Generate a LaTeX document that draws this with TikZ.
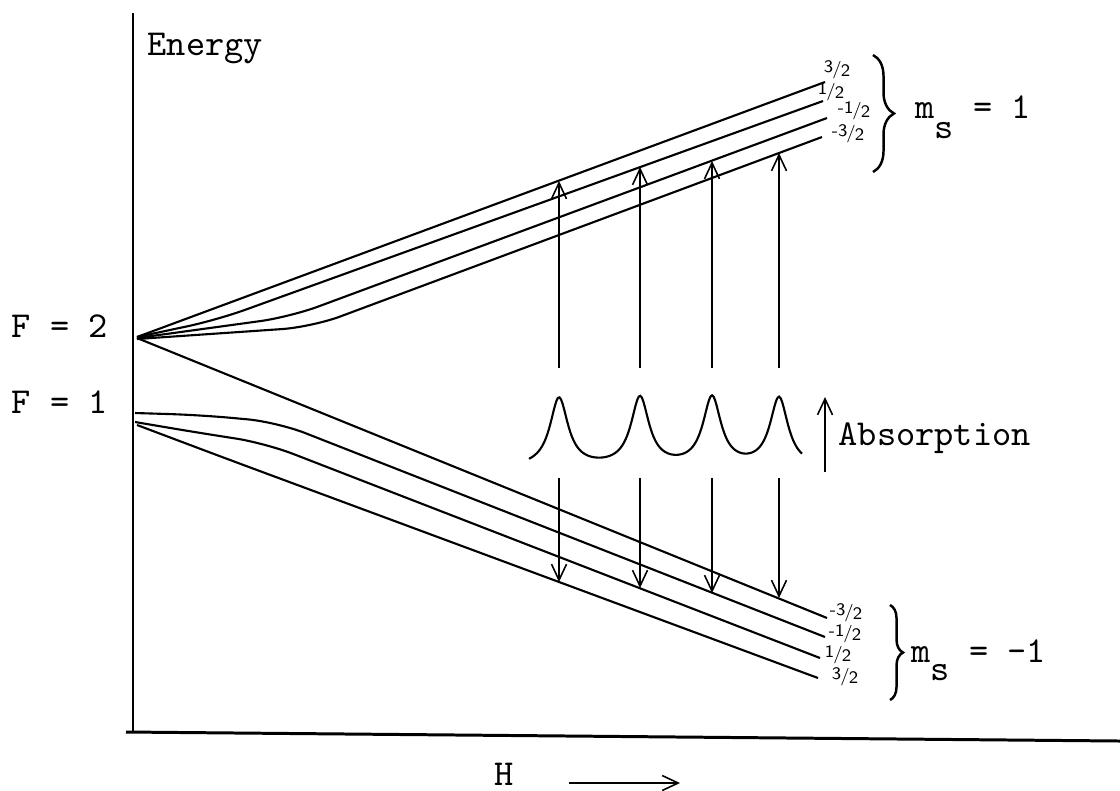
\documentclass[tikz,border=0pt]{standalone}
\usepackage{fontspec}
\usetikzlibrary{arrows.meta,decorations.pathreplacing}
\tikzset{
  sublevel/.style={line width=0.6pt, rounded corners=3mm},
  transition/.style={line width=0.45pt, -{Straight Barb[length=1.6mm,width=1.5mm]}},
  typed/.style={font=\fontsize{10.4}{12}\selectfont\ttfamily, inner sep=0pt},
  hand/.style={font=\fontsize{5}{5.5}\selectfont\sffamily, inner sep=0pt},
  bracket/.style={line width=0.7pt, decorate, decoration={brace,amplitude=#1}}
}
\newcommand{\hfr}[2]{\raisebox{0.25ex}{#1}\kern-0.05em/\kern-0.05em\raisebox{-0.25ex}{#2}}
\begin{document}
\begin{tikzpicture}[x=0.1mm,y=-0.1mm]
    \useasboundingbox (0,0) rectangle (1120,790);
    \draw[line width=0.85pt] (133,13) -- (133,731);
    \draw[line width=0.85pt] (126,732) -- (1120,741);
    \node[typed,anchor=base west] (energy) at (147,55) {Energy};
    \node[typed,anchor=base west] (F2) at (11,337) {F = 2};
    \node[typed,anchor=base west] (F1) at (11,413) {F = 1};

    % F = 2, upper branch
    \draw[sublevel] (137,337) -- (825,82);
    \draw[sublevel] (137,337) -- (217,320) -- (823,101);
    \draw[sublevel] (137,338) -- (290,317) -- (827,118);
    \draw[sublevel] (137,339) -- (312,327) -- (822,137);
    % lower branch
    \draw[sublevel] (137,338) -- (827,618);
    \draw[sublevel] (135,413) -- (200,415) -- (277,422) -- (825,637);
    \draw[sublevel] (135,422) -- (200,433) -- (265,443) -- (820,658);
    \draw[sublevel] (137,425) -- (230,460) -- (818,678);

    \foreach \x/\y/\n/\d [count=\i] in {837/70/3/2, 831/92/1/2, 854/111/-1/2, 848/134/-3/2}
        \node[hand] (mu\i) at (\x,\y) {\hfr{\n}{\d}};
    \foreach \x/\y/\n/\d [count=\i] in {846/613/-3/2, 845/634/-1/2, 838/655/1/2, 845/677/3/2}
        \node[hand] (md\i) at (\x,\y) {\hfr{\n}{\d}};

    \draw[bracket=2.1mm] (873,55) -- (873,172);
    \draw[bracket=1.3mm] (890,605) -- (890,700);
    \node[typed,anchor=base west] (ms1) at (915,118) {m\raisebox{-0.55em}{s} = 1};
    \node[typed,anchor=base west] (msm1) at (911,662) {m\raisebox{-0.5em}{s} = -1};

    \foreach \x/\yu/\yd [count=\i] in {559/181/582, 640/167/588, 712/161/593, 779/153/598} {
        \coordinate (lo\i) at (\x,368);
        \coordinate (hi\i) at (\x,\yu);
        \draw[transition] (lo\i) -- (hi\i);
        \coordinate (st\i) at (\x,478);
        \coordinate (en\i) at (\x,\yd);
        \draw[transition] (st\i) -- (en\i);
    }

    \draw[line width=0.6pt] plot[domain=529:802,samples=180]
        (\x,{468-69*(1/(1+((\x-559)/11)^2)+1/(1+((\x-640)/11)^2)+1/(1+((\x-712)/11)^2)+1/(1+((\x-779)/11)^2))});
    \coordinate (abs-s) at (825,472);
    \coordinate (abs-e) at (825,397);
    \draw[transition] (abs-s) -- (abs-e);
    \node[typed,anchor=base west] (absorb) at (838,445) {Absorption};

    \node[typed,anchor=base] (H) at (504,785) {H};
    \coordinate (h-s) at (569,783);
    \coordinate (h-e) at (680,783);
    \draw[transition] (h-s) -- (h-e);
\end{tikzpicture}
\end{document}
